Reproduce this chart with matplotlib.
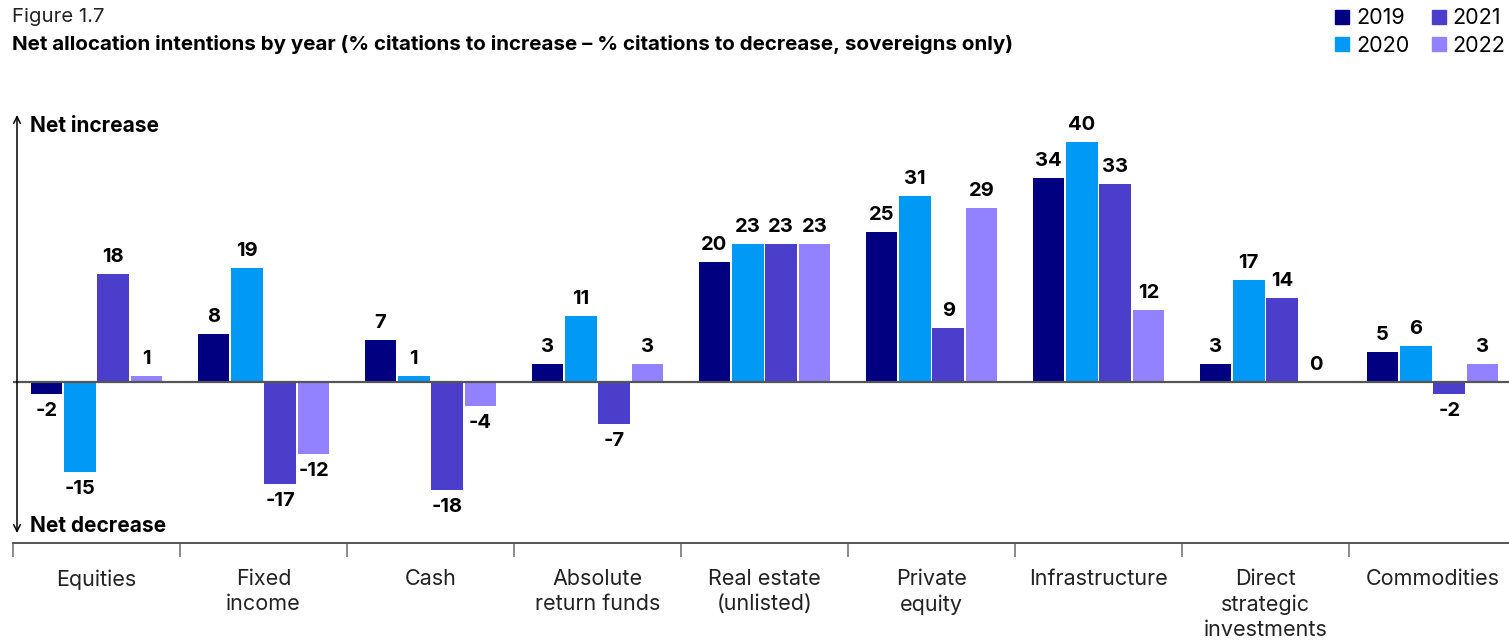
import matplotlib.pyplot as plt
import numpy as np
from matplotlib.patches import Patch

plt.rcParams['font.family'] = ['Inter', 'DejaVu Sans']

# Data
categories = ['Equities', 'Fixed\nincome', 'Cash', 'Absolute\nreturn funds', 'Real estate\n(unlisted)',
              'Private\nequity', 'Infrastructure', 'Direct\nstrategic\ninvestments', 'Commodities']
years = ['2019', '2020', '2021', '2022']
v2019 = [-2, 8, 7, 3, 20, 25, 34, 3, 5]
v2020 = [-15, 19, 1, 11, 23, 31, 40, 17, 6]
v2021 = [18, -17, -18, -7, 23, 9, 33, 14, -2]
v2022 = [1, -12, -4, 3, 23, 29, 12, 0, 3]
series = [v2019, v2020, v2021, v2022]
colors = ['#000080', '#0099F5', '#4B3ECB', '#9282FF']

fig = plt.figure(figsize=(15.09, 6.4), dpi=100)
# axes spans from x=13px to right edge, y from 110px to 543px
ax = fig.add_axes([13 / 1509, 1 - 543 / 640, 1 - 13 / 1509, (543 - 110) / 640])

x = np.arange(len(categories))
step = 0.2
width = 0.19
for i, (vals, col) in enumerate(zip(series, colors)):
    pos = x + (i - 1.5) * step
    ax.bar(pos, vals, width=width, color=col, zorder=2)
    for p, v in zip(pos, vals):
        if v >= 0:
            ax.annotate(str(v), (p, v), xytext=(0, 6), textcoords='offset points',
                        ha='center', va='bottom', fontsize=14.5, fontweight='bold')
        else:
            ax.annotate(str(v), (p, v), xytext=(0, -6), textcoords='offset points',
                        ha='center', va='top', fontsize=14.5, fontweight='bold')

ax.set_xlim(-0.5, 8.5 - 7 / 167)
ax.set_ylim((382 - 543) / 6, (382 - 110) / 6)

# zero line
ax.axhline(0, color='#555555', lw=1.6, zorder=3)

# spines
for s in ['top', 'right', 'left']:
    ax.spines[s].set_visible(False)
ax.spines['bottom'].set_color('#555555')
ax.spines['bottom'].set_linewidth(1.4)

ax.set_yticks([])
ax.set_xticks(x)
ax.set_xticklabels(categories, fontsize=15.5, color='#222222', linespacing=1.3)
ax.tick_params(axis='x', which='major', length=0, pad=19)
ax.set_xticks(np.arange(-0.5, 8.5, 1), minor=True)
ax.tick_params(axis='x', which='minor', length=10, width=1.2, color='#777777', direction='out')

# up / down arrows
arrow_x = -0.5 + 4 / 167
ax.annotate('', xy=(arrow_x, (382 - 115) / 6), xytext=(arrow_x, 0),
            arrowprops=dict(arrowstyle='->', lw=1.1, color='black', mutation_scale=12, shrinkA=0, shrinkB=0))
ax.annotate('', xy=(arrow_x, (382 - 533) / 6), xytext=(arrow_x, 0),
            arrowprops=dict(arrowstyle='->', lw=1.1, color='black', mutation_scale=12, shrinkA=0, shrinkB=0))
ax.text(-0.5 + 17 / 167, (382 - 126) / 6, 'Net increase', fontsize=15, fontweight='bold', va='center', ha='left')
ax.text(-0.5 + 17 / 167, (382 - 526) / 6, 'Net decrease', fontsize=15, fontweight='bold', va='center', ha='left')

# titles
fig.text(12 / 1509, 1 - 17 / 640, 'Figure 1.7', fontsize=14.6, va='center', ha='left', color='#222222')
fig.text(12 / 1509, 1 - 45 / 640,
         'Net allocation intentions by year (% citations to increase \u2013 % citations to decrease, sovereigns only)',
         fontsize=14.8, fontweight='bold', va='center', ha='left')

# legend
handles = [Patch(color=c, label=y) for c, y in zip(colors, years)]
fig.legend(handles=handles, ncol=2, loc='upper left', bbox_to_anchor=(1331 / 1509, 1 - 4 / 640),
           frameon=False, fontsize=15.5, handlelength=0.64, handleheight=0.64, handletextpad=0.32,
           columnspacing=1.05, labelspacing=0.34, borderaxespad=0, borderpad=0.2)

fig.savefig('out.png', dpi=100)
